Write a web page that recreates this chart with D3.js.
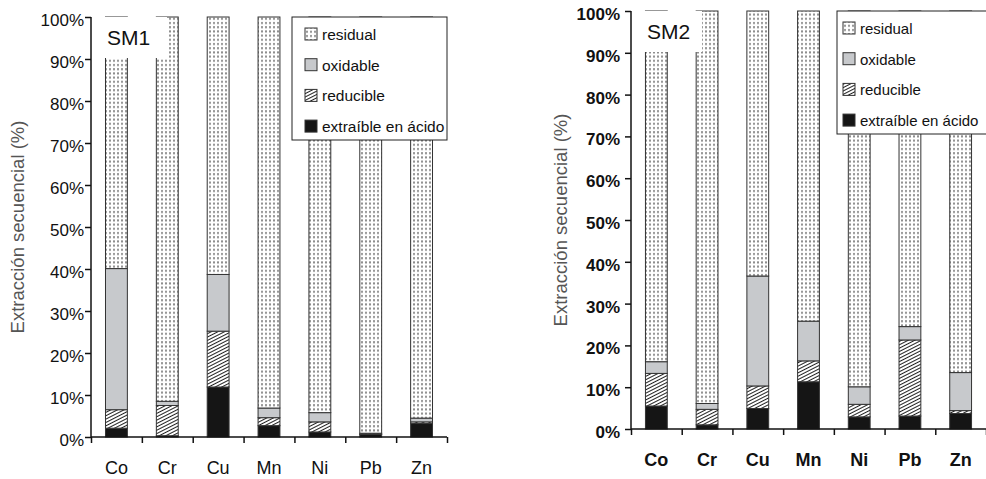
<!DOCTYPE html>
<html>
<head>
<meta charset="utf-8">
<script src="https://cdn.jsdelivr.net/npm/d3@7"></script>
<style>
	body { margin: 0; background: #fff; }
	svg { display: block; font-family: 'Liberation Sans', Arial, sans-serif; }
</style>
</head>
<body>
<div id="chart"></div>
<script>
// metals on the x axis
var metals = ['Co', 'Cr', 'Cu', 'Mn', 'Ni', 'Pb', 'Zn'];
var fractions = ['acid', 'reducible', 'oxidable', 'residual'];
var legendLabels = ['residual', 'oxidable', 'reducible', 'extraíble en ácido'];
var yTicks = [0, 10, 20, 30, 40, 50, 60, 70, 80, 90, 100];

// SM1 (%)
var sm1Acid = [2.1, 0.3, 11.9, 2.7, 1.2, 0.6, 3.2];
var sm1Reducible = [4.4, 7.2, 13.3, 1.9, 2.4, 0.1, 0.4];
var sm1Oxidable = [33.6, 1.0, 13.5, 2.3, 2.2, 0.2, 0.9];
var sm1Residual = [59.9, 91.5, 61.3, 93.1, 94.2, 99.1, 95.5];

// SM2 (%)
var sm2Acid = [5.5, 1.0, 4.9, 11.3, 2.9, 3.1, 3.7];
var sm2Reducible = [7.8, 3.7, 5.4, 5.0, 3.0, 18.2, 0.7];
var sm2Oxidable = [2.8, 1.4, 26.3, 9.5, 4.2, 3.2, 9.1];
var sm2Residual = [83.9, 93.9, 63.4, 74.2, 89.9, 75.5, 86.5];

var svg = d3.select('#chart').append('svg').attr('width', 986).attr('height', 479);

//patterns
var defs = svg.append('defs');
var dots = defs.append('pattern').attr('id', 'dots').attr('patternUnits', 'userSpaceOnUse')
	.attr('width', 4).attr('height', 4.2);
dots.append('rect').attr('width', 4).attr('height', 4.2).attr('fill', '#fff');
dots.append('rect').attr('x', 1).attr('y', 1).attr('width', 2).attr('height', 2).attr('fill', '#8e8e8e');

var hatch = defs.append('pattern').attr('id', 'hatch').attr('patternUnits', 'userSpaceOnUse')
	.attr('width', 6).attr('height', 3).attr('patternTransform', 'rotate(-27)');
hatch.append('rect').attr('width', 6).attr('height', 3).attr('fill', '#fff');
hatch.append('line').attr('x1', 0).attr('x2', 6).attr('y1', 1.5).attr('y2', 1.5)
	.attr('stroke', '#222').attr('stroke-width', 1);

var fills = { acid: '#151515', reducible: 'url(#hatch)', oxidable: '#c7c9cc', residual: 'url(#dots)' };
var legendFills = ['url(#dots)', '#c7c9cc', 'url(#hatch)', '#151515'];

function drawChart(cfg) {
	var g = svg.append('g');

	var rows = metals.map(function(m, i) {
		return { metal: m, acid: cfg.acid[i], reducible: cfg.reducible[i], oxidable: cfg.oxidable[i], residual: cfg.residual[i] };
	});
	var stacked = d3.stack().keys(fractions)(rows);

	var x = d3.scaleBand().domain(metals).range([cfg.x0, cfg.x1]).paddingInner(0.57).paddingOuter(0.285);
	var xEdge = d3.scaleLinear().domain([0, metals.length]).range([cfg.x0, cfg.x1]);
	var y = d3.scaleLinear().domain([0, 100]).range([cfg.y0, cfg.y1]);

	//stacked bars
	g.selectAll('g.layer')
		.data(stacked)
		.enter()
		.append('g')
		.attr('class', 'layer')
		.attr('fill', function(d) { return fills[d.key]; })
		.selectAll('rect')
		.data(function(d) { return d; })
		.enter()
		.append('rect')
		.attr('x', function(d) { return x(d.data.metal); })
		.attr('width', x.bandwidth())
		.attr('y', function(d) { return y(d[1]); })
		.attr('height', function(d) { return y(d[0]) - y(d[1]); })
		.attr('stroke', '#333')
		.attr('stroke-width', 1);

	//sample name box
	g.append('rect').attr('x', cfg.x0).attr('y', cfg.y1).attr('width', cfg.boxW).attr('height', cfg.boxH).attr('fill', '#fff');
	g.append('text').attr('x', cfg.x0 + 16).attr('y', cfg.y1 + cfg.boxH / 2 + 7)
		.attr('font-size', 21).attr('fill', '#111').text(cfg.name);

	//legend
	var leg = g.append('g').attr('transform', 'translate(' + cfg.legX + ',' + cfg.y1 + ')');
	leg.append('rect').attr('width', cfg.legW).attr('height', 123).attr('fill', '#fff')
		.attr('stroke', '#222').attr('stroke-width', 1);
	var items = leg.append('g')
		.selectAll('g').data(legendLabels).enter().append('g')
		.attr('transform', function(d, i) { return 'translate(' + cfg.swX + ',' + (17 + i * 30.7) + ')'; });
	items.append('rect').attr('x', 0).attr('y', -6).attr('width', 12).attr('height', 12)
		.attr('fill', function(d, i) { return legendFills[i]; }).attr('stroke', '#333');
	items.append('text').attr('x', 17).attr('y', 6).attr('font-size', cfg.legFont).attr('fill', '#111')
		.text(function(d) { return d; });

	//Y axis
	var yAxis = g.append('g').attr('transform', 'translate(' + cfg.x0 + ',0)')
		.call(d3.axisLeft(y).tickValues(yTicks).tickSize(6).tickPadding(cfg.tickPad)
			.tickFormat(function(d) { return d + '%'; }));
	yAxis.selectAll('text').attr('font-size', 17).attr('fill', '#111').attr('font-weight', cfg.weight)
		.attr('dy', '0.5em').attr('font-family', null);
	yAxis.select('.domain').attr('stroke', '#111').attr('stroke-width', 1.5).attr('d', 'M0,' + cfg.y0 + 'V' + cfg.y1);
	yAxis.selectAll('line').attr('stroke', '#111').attr('stroke-width', 1.5);

	//X axis
	var xAxis = g.append('g').attr('transform', 'translate(0,' + cfg.y0 + ')')
		.call(d3.axisBottom(xEdge).ticks(metals.length).tickSize(6).tickFormat(''));
	xAxis.select('.domain').attr('stroke', '#111').attr('stroke-width', 1.5)
		.attr('d', 'M' + cfg.x0 + ',0H' + cfg.x1);
	xAxis.selectAll('line').attr('stroke', '#111').attr('stroke-width', 1.5);

	g.selectAll('text.cat').data(metals).enter().append('text').attr('class', 'cat')
		.attr('x', function(d) { return x(d) + x.bandwidth() / 2; })
		.attr('y', cfg.catY).attr('text-anchor', 'middle').attr('font-size', 18)
		.attr('fill', '#111').attr('font-weight', cfg.weight).text(function(d) { return d; });

	//Y axis label
	g.append('text')
		.attr('transform', 'translate(' + cfg.titleX + ',' + ((cfg.y0 + cfg.y1) / 2) + ') rotate(-90)')
		.attr('text-anchor', 'middle').attr('font-size', 18.5).attr('fill', '#555')
		.text('Extracción secuencial (%)');
}

drawChart({
	name: 'SM1', acid: sm1Acid, reducible: sm1Reducible, oxidable: sm1Oxidable, residual: sm1Residual,
	x0: 91, x1: 447, y0: 437, y1: 17, boxW: 76, boxH: 41, legX: 292, legW: 155, swX: 13, legFont: 15.5,
	tickPad: 1, catY: 474, titleX: 24, weight: 'normal'
});
drawChart({
	name: 'SM2', acid: sm2Acid, reducible: sm2Reducible, oxidable: sm2Oxidable, residual: sm2Residual,
	x0: 631, x1: 986, y0: 429, y1: 11, boxW: 71, boxH: 41, legX: 837, legW: 152, swX: 6, legFont: 15,
	tickPad: 5, catY: 466, titleX: 567, weight: 'bold'
});
</script>
</body>
</html>
